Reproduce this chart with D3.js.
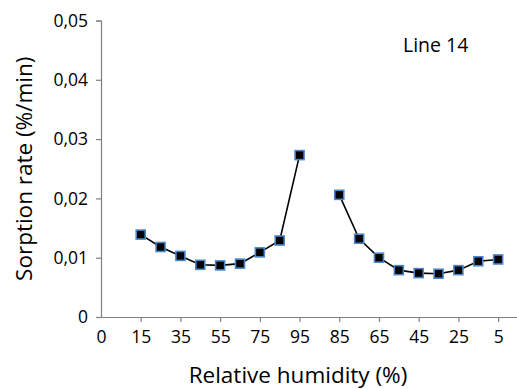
<!DOCTYPE html>
<html>
<head>
<meta charset="utf-8">
<script src="https://cdn.jsdelivr.net/npm/d3@7"></script>
<style>
  body { margin: 0; background: #fff; }
  svg text { font-family: "Open Sans", sans-serif; fill: #000; }
</style>
</head>
<body>
<script>
// data
var adsorptionRH = [15, 25, 35, 45, 55, 65, 75, 85, 95];
var adsorptionRate = [0.0139, 0.0118, 0.0103, 0.0088, 0.0087, 0.0090, 0.0109, 0.0129, 0.0273];
var desorptionRH = [85, 75, 65, 55, 45, 35, 25, 15, 5];
var desorptionRate = [0.0206, 0.0132, 0.0100, 0.0079, 0.0074, 0.0073, 0.0079, 0.0094, 0.0097];
var xTickLabels = ["0", "15", "35", "55", "75", "95", "85", "65", "45", "25", "5"];
var yTicks = [0, 0.01, 0.02, 0.03, 0.04, 0.05];

var W = 517, H = 389;
var margin = { top: 20.5, right: 0, bottom: 72, left: 101 };

// position along the x axis: adsorption going up, then desorption going down
function posAds(rh) { return (rh - 5) / 10 + 1; }
function posDes(rh) { return 12 + (85 - rh) / 10; }

var x = d3.scaleLinear().domain([0, 20.95]).range([margin.left, W - margin.right]);
var y = d3.scaleLinear().domain([0, 0.05]).range([H - margin.bottom, margin.top]);

var svg = d3.select("body").append("svg")
  .attr("width", W)
  .attr("height", H);

// y axis
var yAxis = svg.append("g")
  .attr("transform", "translate(" + margin.left + ",0)")
  .call(d3.axisLeft(y).tickValues(yTicks).tickSize(5).tickPadding(8)
    .tickFormat(function (d) { return d === 0 ? "0" : d3.format(".2f")(d).replace(".", ","); }));
yAxis.select(".domain").attr("stroke", "#808080").attr("stroke-width", 1.2);
yAxis.selectAll(".tick line").attr("stroke", "#808080").attr("stroke-width", 1.2);
yAxis.selectAll("text").style("font-size", "17.5px");

// x axis
var xTickPos = xTickLabels.map(function (d, i) { return i * 2; });
var xAxis = svg.append("g")
  .attr("transform", "translate(0," + (H - margin.bottom) + ")")
  .call(d3.axisBottom(x).tickValues(xTickPos).tickSize(5).tickSizeOuter(0).tickPadding(9)
    .tickFormat(function (d, i) { return xTickLabels[i]; }));
xAxis.select(".domain").attr("stroke", "#808080").attr("stroke-width", 1.2);
xAxis.selectAll(".tick line").attr("stroke", "#808080").attr("stroke-width", 1.2);
xAxis.selectAll(".tick").filter(function (d) { return d === 0; }).select("line").remove();
xAxis.selectAll("text").style("font-size", "17.5px");

// axis titles
svg.append("text")
  .attr("x", 298).attr("y", 383)
  .attr("text-anchor", "middle")
  .style("font-size", "22.5px")
  .text("Relative humidity (%)");

svg.append("text")
  .attr("transform", "translate(32," + ((margin.top + H - margin.bottom) / 2) + ") rotate(-90)")
  .attr("text-anchor", "middle")
  .style("font-size", "22.5px")
  .text("Sorption rate (%/min)");

svg.append("text")
  .attr("x", 403).attr("y", 52)
  .style("font-size", "19.5px")
  .text("Line 14");

// series
var ads = adsorptionRH.map(function (d, i) { return { p: posAds(d), v: adsorptionRate[i] }; });
var des = desorptionRH.map(function (d, i) { return { p: posDes(d), v: desorptionRate[i] }; });

var line = d3.line().x(function (d) { return x(d.p); }).y(function (d) { return y(d.v); });

[ads, des].forEach(function (series) {
  svg.append("path")
    .datum(series)
    .attr("fill", "none")
    .attr("stroke", "#000")
    .attr("stroke-width", 1.6)
    .attr("d", line);

  svg.append("g").selectAll("rect")
    .data(series)
    .enter().append("rect")
    .attr("x", function (d) { return x(d.p) - 4.5; })
    .attr("y", function (d) { return y(d.v) - 4.5; })
    .attr("width", 9)
    .attr("height", 9)
    .attr("fill", "#000")
    .attr("stroke", "#4a86c8")
    .attr("stroke-width", 1.6);
});
</script>
</body>
</html>
